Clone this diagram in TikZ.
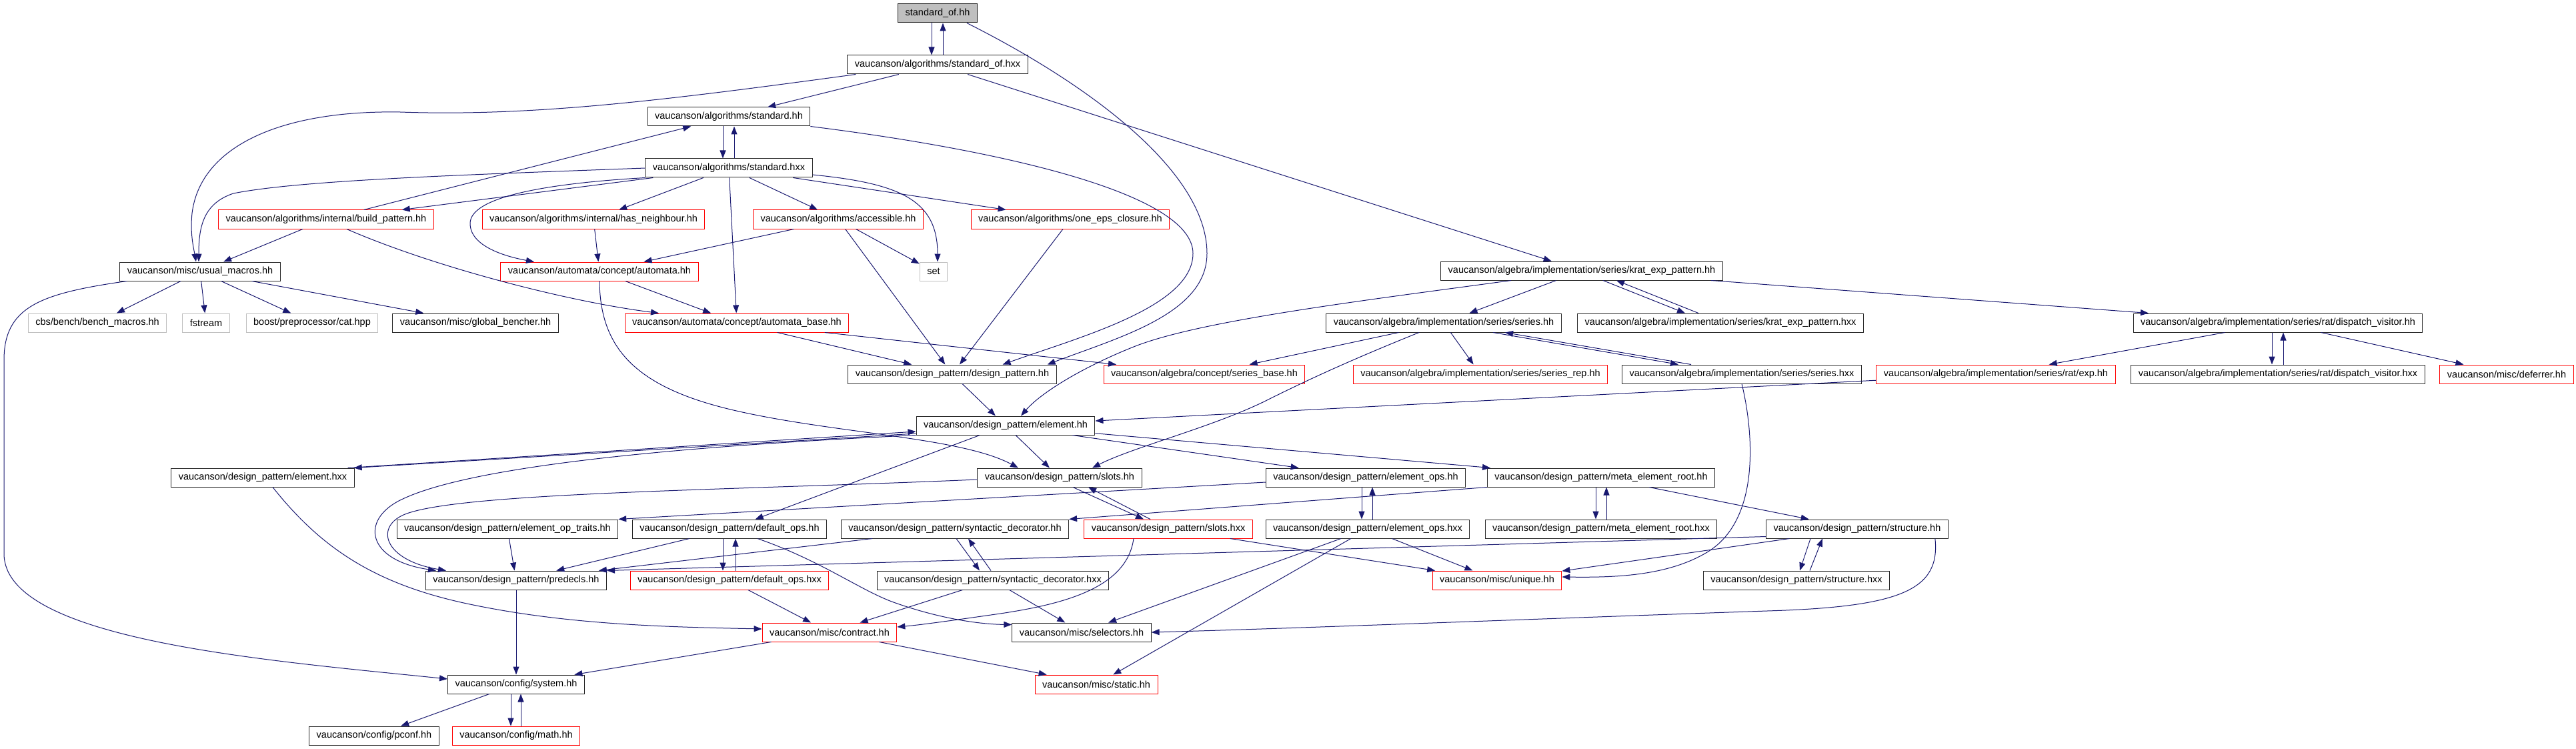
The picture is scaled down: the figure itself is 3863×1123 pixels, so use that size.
\documentclass[tikz,border=0pt]{standalone}
\usepackage{fontspec}
\setmainfont{Liberation Sans}
\usetikzlibrary{arrows.meta}

\definecolor{edgeblue}{HTML}{191970}
\definecolor{truncred}{HTML}{FF0000}
\definecolor{sysgray}{HTML}{BFBFBF}

\begin{document}
\begin{tikzpicture}[x=1pt,y=-1pt,
  file/.style={draw=black!85, line width=1pt, fill=white, minimum height=28pt,
    inner xsep=11pt, inner ysep=0pt, font=\fontsize{14.5}{17}\selectfont},
  trunc/.style={file, draw=truncred},
  sysinc/.style={file, draw=sysgray},
  root/.style={file, fill=sysgray},
  dep/.style={draw=edgeblue, line width=1pt, -{Triangle[length=12pt,width=9pt]}}]

\useasboundingbox (0,0) rectangle (3863,1123);

% files
\node[root] (stdofhh) at (1406,20) {standard\_of.hh};
\node[file] (stdofhxx) at (1406,97) {vaucanson/algorithms/standard\_of.hxx};
\node[file] (stdhh) at (1093,175) {vaucanson/algorithms/standard.hh};
\node[file] (stdhxx) at (1093,252) {vaucanson/algorithms/standard.hxx};
\node[trunc] (buildpat) at (489,329) {vaucanson/algorithms/internal/build\_pattern.hh};
\node[trunc] (hasneigh) at (890,329) {vaucanson/algorithms/internal/has\_neighbour.hh};
\node[trunc] (access) at (1257,329) {vaucanson/algorithms/accessible.hh};
\node[trunc] (oneeps) at (1605,329) {vaucanson/algorithms/one\_eps\_closure.hh};
\node[file] (usual) at (300,407) {vaucanson/misc/usual\_macros.hh};
\node[trunc] (automata) at (899,407) {vaucanson/automata/concept/automata.hh};
\node[sysinc] (set) at (1400,407) {set};
\node[file] (kratpat) at (2372,406) {vaucanson/algebra/implementation/series/krat\_exp\_pattern.hh};
\node[sysinc] (bench) at (146,484) {cbs/bench/bench\_macros.hh};
\node[sysinc] (fstream) at (309,484) {fstream};
\node[sysinc] (boostcat) at (468,484) {boost/preprocessor/cat.hpp};
\node[file] (bencher) at (713,484) {vaucanson/misc/global\_bencher.hh};
\node[trunc] (autobase) at (1105,484) {vaucanson/automata/concept/automata\_base.hh};
\node[file] (series) at (2165,484) {vaucanson/algebra/implementation/series/series.hh};
\node[file] (kratpathxx) at (2580,484) {vaucanson/algebra/implementation/series/krat\_exp\_pattern.hxx};
\node[file] (dispatch) at (3416,484) {vaucanson/algebra/implementation/series/rat/dispatch\_visitor.hh};
\node[file] (dpattern) at (1428,561) {vaucanson/design\_pattern/design\_pattern.hh};
\node[trunc] (seriesbase) at (1806,561) {vaucanson/algebra/concept/series\_base.hh};
\node[trunc] (seriesrep) at (2220,561) {vaucanson/algebra/implementation/series/series\_rep.hh};
\node[file] (serieshxx) at (2612,561) {vaucanson/algebra/implementation/series/series.hxx};
\node[trunc] (ratexp) at (2993,561) {vaucanson/algebra/implementation/series/rat/exp.hh};
\node[file] (dispatchhxx) at (3416,561) {vaucanson/algebra/implementation/series/rat/dispatch\_visitor.hxx};
\node[trunc] (deferrer) at (3759,561) {vaucanson/misc/deferrer.hh};
\node[file] (element) at (1508,638) {vaucanson/design\_pattern/element.hh};
\node[file] (elementhxx) at (394,716) {vaucanson/design\_pattern/element.hxx};
\node[file] (slots) at (1589,716) {vaucanson/design\_pattern/slots.hh};
\node[file] (elemops) at (2048,716) {vaucanson/design\_pattern/element\_ops.hh};
\node[file] (metaroot) at (2401,716) {vaucanson/design\_pattern/meta\_element\_root.hh};
\node[file] (optraits) at (761,793) {vaucanson/design\_pattern/element\_op\_traits.hh};
\node[file] (defops) at (1094,793) {vaucanson/design\_pattern/default\_ops.hh};
\node[file] (syntdec) at (1432,793) {vaucanson/design\_pattern/syntactic\_decorator.hh};
\node[trunc] (slotshxx) at (1752,793) {vaucanson/design\_pattern/slots.hxx};
\node[file] (elemopshxx) at (2051,793) {vaucanson/design\_pattern/element\_ops.hxx};
\node[file] (metaroothxx) at (2401,793) {vaucanson/design\_pattern/meta\_element\_root.hxx};
\node[file] (structure) at (2785,793) {vaucanson/design\_pattern/structure.hh};
\node[file] (predecls) at (774,870) {vaucanson/design\_pattern/predecls.hh};
\node[trunc] (defopshxx) at (1094,870) {vaucanson/design\_pattern/default\_ops.hxx};
\node[file] (syntdechxx) at (1489,870) {vaucanson/design\_pattern/syntactic\_decorator.hxx};
\node[trunc] (unique) at (2245,870) {vaucanson/misc/unique.hh};
\node[file] (structurehxx) at (2694,870) {vaucanson/design\_pattern/structure.hxx};
\node[trunc] (contract) at (1244,948) {vaucanson/misc/contract.hh};
\node[file] (selectors) at (1622,948) {vaucanson/misc/selectors.hh};
\node[file] (system) at (774,1026) {vaucanson/config/system.hh};
\node[trunc] (static) at (1644,1026) {vaucanson/misc/static.hh};
\node[file] (pconf) at (561,1103) {vaucanson/config/pconf.hh};
\node[trunc] (math) at (774,1103) {vaucanson/config/math.hh};

% straight includes
\foreach \src/\dst in {stdofhxx/stdhh, stdofhxx/kratpat, buildpat/stdhh, stdhxx/buildpat,
    stdhxx/hasneigh, stdhxx/autobase, stdhxx/access, stdhxx/oneeps, buildpat/usual,
    hasneigh/automata, access/automata, access/dpattern, access/set, oneeps/dpattern,
    usual/bench, usual/fstream, usual/boostcat, usual/bencher, automata/autobase,
    autobase/dpattern, autobase/seriesbase, kratpat/series, kratpat/dispatch,
    series/seriesbase, series/seriesrep, dispatch/ratexp, dispatch/deferrer,
    ratexp/element, dpattern/element, element/slots, element/defops, element/elemops,
    element/metaroot, metaroot/structure, elemopshxx/unique, elemopshxx/static,
    elemopshxx/selectors, slotshxx/unique, structure/unique, defops/predecls,
    defopshxx/contract, syntdec/predecls, syntdechxx/contract, syntdechxx/selectors,
    optraits/predecls, predecls/system, contract/system, contract/static, system/pconf}
  \draw[dep] (\src) -- (\dst);

% mutual includes
\draw[dep] ([xshift=-9pt]stdofhh.south) -- ([xshift=-9pt]stdofhxx.north);
\draw[dep] ([xshift=8pt]stdofhxx.north) -- ([xshift=8pt]stdofhh.south);
\draw[dep] ([xshift=-9pt]stdhh.south) -- ([xshift=-9pt]stdhxx.north);
\draw[dep] ([xshift=8pt]stdhxx.north) -- ([xshift=8pt]stdhh.south);
\draw[dep] ([xshift=32pt]kratpat.south) -- ([xshift=-53pt]kratpathxx.north);
\draw[dep] ([xshift=-33pt]kratpathxx.north) -- ([xshift=52pt]kratpat.south);
\draw[dep] ([xshift=74pt]series.south) -- ([xshift=-95pt]serieshxx.north);
\draw[dep] ([xshift=-76pt]serieshxx.north) -- ([xshift=92pt]series.south);
\draw[dep] ([xshift=-9pt]dispatch.south) -- ([xshift=-9pt]dispatchhxx.north);
\draw[dep] ([xshift=8pt]dispatchhxx.north) -- ([xshift=8pt]dispatch.south);
\draw[dep] ([yshift=-12pt]element.west) -- ([xshift=-1pt]elementhxx.north east);
\draw[dep] ([xshift=-10pt]elementhxx.north east) -- ([yshift=-9pt]element.west);
\draw[dep] ([xshift=20pt]slots.south) -- ([xshift=-37pt]slotshxx.north);
\draw[dep] ([xshift=-27pt]slotshxx.north) -- ([xshift=43pt]slots.south);
\draw[dep] ([xshift=-6pt]elemops.south) -- ([xshift=-9pt]elemopshxx.north);
\draw[dep] ([xshift=7pt]elemopshxx.north) -- ([xshift=10pt]elemops.south);
\draw[dep] ([xshift=-8pt]metaroot.south) -- ([xshift=-8pt]metaroothxx.north);
\draw[dep] ([xshift=8pt]metaroothxx.north) -- ([xshift=8pt]metaroot.south);
\draw[dep] ([xshift=-70pt]structure.south) -- ([xshift=5pt]structurehxx.north);
\draw[dep] ([xshift=20pt]structurehxx.north) -- ([xshift=-52pt]structure.south);
\draw[dep] ([xshift=-10pt]defops.south) -- ([xshift=-10pt]defopshxx.north);
\draw[dep] ([xshift=9pt]defopshxx.north) -- ([xshift=9pt]defops.south);
\draw[dep] ([xshift=2pt]syntdec.south) -- ([xshift=-20pt]syntdechxx.north);
\draw[dep] ([xshift=-3pt]syntdechxx.north) -- ([xshift=20pt]syntdec.south);
\draw[dep] ([xshift=-8pt]system.south) -- ([xshift=-8pt]math.north);
\draw[dep] ([xshift=7pt]math.north) -- ([xshift=7pt]system.south);

% other straight runs
\draw[dep] ([yshift=-7pt]elemops.west) -- (optraits.north east);
\draw[dep] (metaroot.south west) -- (syntdec.north east);
\draw[dep] ([yshift=3pt]structure.south west) -- (predecls.north east);

% curved includes
\draw[dep] ([xshift=-16pt]stdofhh.south east) .. controls (1640,130) and (1810,260) .. (1810,380)
  .. controls (1810,470) and (1680,505) .. ([xshift=-14pt]dpattern.north east);
\draw[dep] (stdhh.south east) .. controls (1500,225) and (1789,290) .. (1789,380)
  .. controls (1789,460) and (1620,505) .. ([xshift=-81pt]dpattern.north east);
\draw[dep] ([xshift=13pt]stdofhxx.south west) .. controls (1000,150) and (800,175) .. (600,168)
  .. controls (420,165) and (300,220) .. (288,320)
  .. controls (285,350) and (290,370) .. ([xshift=-6pt]usual.north);
\draw[dep] (stdhxx.west) .. controls (700,262) and (450,270) .. (350,290)
  .. controls (305,305) and (298,340) .. ([xshift=-2pt]usual.north);
\draw[dep] (stdhxx.south west) .. controls (820,275) and (705,295) .. (705,335)
  .. controls (705,370) and (760,385) .. ([xshift=-98pt]automata.north);
\draw[dep] ([yshift=-10pt]stdhxx.east) .. controls (1350,275) and (1406,300) .. ([xshift=6pt]set.north);
\draw[dep] ([xshift=31pt]buildpat.south) .. controls (650,400) and (850,452) .. ([xshift=-117pt]autobase.north);
\draw[dep] ([xshift=-110pt]usual.south) .. controls (60,440) and (6,460) .. (6,540) -- (6,830)
  .. controls (6,960) and (400,990) .. ([yshift=8pt]system.west);
\draw[dep] (automata.south) .. controls (900,520) and (950,580) .. (1100,615)
  .. controls (1250,650) and (1440,655) .. ([xshift=-62pt]slots.north);
\draw[dep] ([xshift=-106pt]kratpat.south) .. controls (2050,450) and (1800,480) .. (1700,520)
  .. controls (1620,552) and (1560,590) .. ([xshift=23pt]element.north);
\draw[dep] ([xshift=-37pt]series.south) .. controls (2050,530) and (1980,560) .. (1900,600)
  .. controls (1820,640) and (1700,670) .. ([xshift=49pt]slots.north);
\draw[dep] (serieshxx.south) .. controls (2630,650) and (2640,780) .. (2560,828)
  .. controls (2500,864) and (2420,866) .. ([yshift=5pt]unique.east);
\draw[dep] (element.south west) .. controls (1000,670) and (700,700) .. (600,750)
  .. controls (540,780) and (550,840) .. ([xshift=-120pt]predecls.north);
\draw[dep] ([yshift=-3pt]slots.west) .. controls (1100,735) and (700,738) .. (610,770)
  .. controls (560,788) and (575,840) .. ([xshift=-105pt]predecls.north);
\draw[dep] ([xshift=15pt]elementhxx.south) .. controls (480,820) and (560,875) .. (700,905)
  .. controls (850,937) and (1000,940) .. ([yshift=5pt]contract.west);
\draw[dep] ([xshift=-20pt]structure.south east) .. controls (2910,885) and (2850,910) .. (2650,916)
  .. controls (2300,928) and (1950,942) .. (selectors.east);
\draw[dep] ([xshift=42pt]defops.south) .. controls (1230,840) and (1290,885) .. (1340,903)
  .. controls (1410,928) and (1470,936) .. ([yshift=-3pt]selectors.north west);
\draw[dep] ([xshift=-52pt]slotshxx.south) .. controls (1690,880) and (1600,905) .. (1500,920)
  .. controls (1430,930) and (1380,937) .. ([yshift=8pt]contract.east);

\end{tikzpicture}
\end{document}
